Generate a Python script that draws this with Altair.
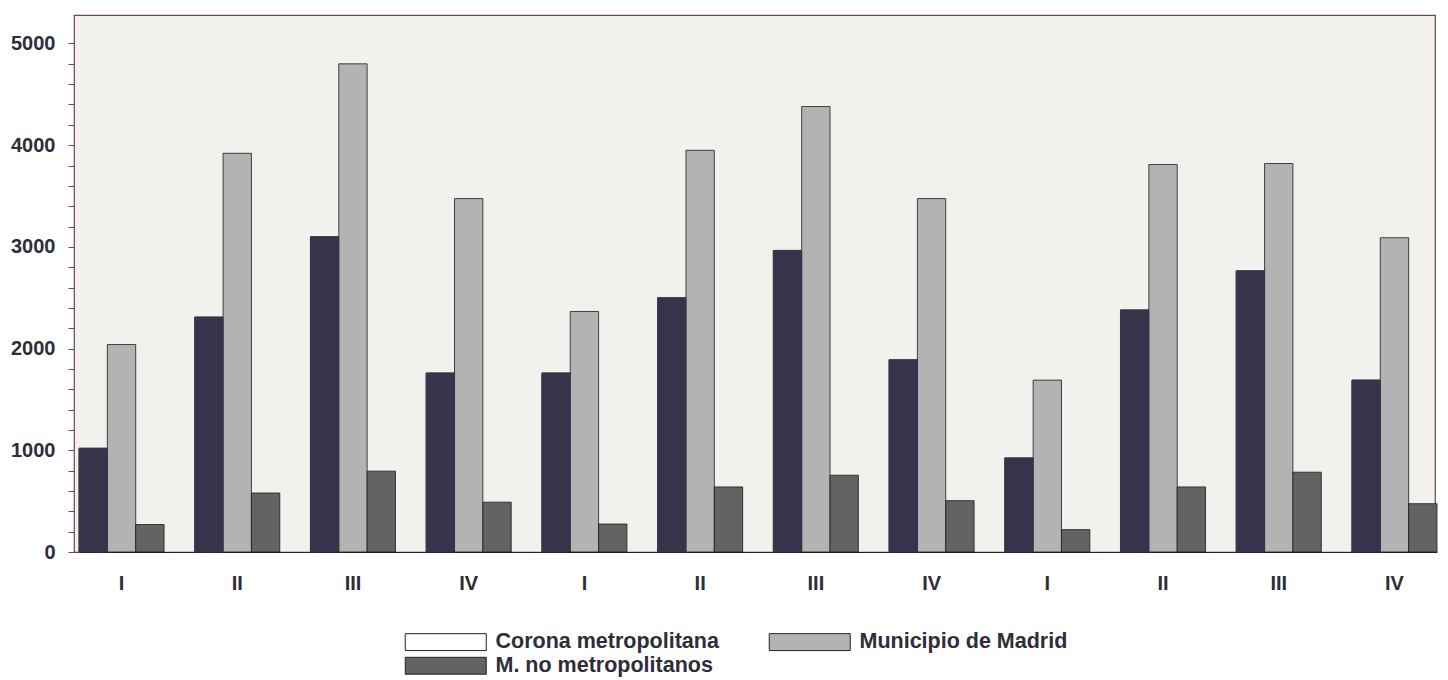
import altair as alt
import pandas as pd

# ---- data ----
periods = ["I", "II", "III", "IV", "I", "II", "III", "IV", "I", "II", "III", "IV"]
series = ["Corona metropolitana", "Municipio de Madrid", "M. no metropolitanos"]
corona = [1020, 2310, 3100, 1760, 1760, 2500, 2965, 1890, 925, 2380, 2765, 1690]
municipio = [2040, 3920, 4800, 3475, 2365, 3950, 4380, 3475, 1690, 3810, 3820, 3090]
no_metro = [270, 580, 795, 490, 275, 640, 755, 505, 220, 640, 785, 475]
y_tick_values = [0, 200, 400, 600, 800, 1000, 1200, 1400, 1600, 1800, 2000,
                 2200, 2400, 2600, 2800, 3000, 3200, 3400, 3600, 3800, 4000,
                 4200, 4400, 4600, 4800, 5000]

rows = []
for i, p in enumerate(periods):
    key = f"{i + 1:02d}-{p}"
    for s, vals in zip(series, [corona, municipio, no_metro]):
        rows.append({"key": key, "series": s, "value": vals[i]})
df = pd.DataFrame(rows)

DARK = "#35344a"
CROSS = "#b3b3b3"
DENSE = "#636363"
FRAME = "#6a4a4f"
TXT = "#2e2d38"
FONT = "Liberation Sans"

x_enc = alt.X(
    "key:N",
    scale=alt.Scale(range=[5, 1363], paddingInner=0.265, paddingOuter=0),
    axis=alt.Axis(
        title=None,
        labelExpr="split(datum.value, '-')[1]",
        labelAngle=0,
        ticks=False,
        tickSize=0,
        domain=True,
        domainColor="#222222",
        domainWidth=1.2,
        labelFontSize=20,
        labelFontWeight="bold",
        labelFont=FONT,
        labelColor=TXT,
        labelPadding=21,
    ),
)
xoff_enc = alt.XOffset(
    "series:N", scale=alt.Scale(domain=series, paddingInner=0, paddingOuter=0)
)
y_enc = alt.Y(
    "value:Q",
    scale=alt.Scale(domain=[0, 5280], nice=False, zero=True),
    axis=alt.Axis(
        title=None,
        values=y_tick_values,
        format="d",
        labelExpr="datum.value % 1000 === 0 ? datum.label : ''",
        grid=False,
        domain=False,
        tickSize=6,
        tickColor=FRAME,
        labelFontSize=20,
        labelFontWeight="bold",
        labelFont=FONT,
        labelColor=TXT,
        labelPadding=13,
    ),
)

# legend follows the printed key (white box for Corona metropolitana)
bars = alt.Chart(df).mark_bar(stroke="#1c1c1c", strokeWidth=0.8).encode(
    x=x_enc,
    xOffset=xoff_enc,
    y=y_enc,
    fill=alt.Fill(
        "series:N",
        scale=alt.Scale(domain=series, range=["#ffffff", CROSS, DENSE]),
        legend=alt.Legend(
            title=None,
            orient="none",
            direction="horizontal",
            legendX=331,
            legendY=616,
            columns=2,
            columnPadding=48,
            rowPadding=1,
            symbolType="M-4.5,-0.94L4.5,-0.94L4.5,0.94L-4.5,0.94Z",
            symbolSize=324,
            symbolStrokeColor="#222222",
            symbolStrokeWidth=1,
            symbolOffset=30,
            labelOffset=39,
            labelFontSize=21.5,
            labelFontWeight="bold",
            labelFont=FONT,
            labelColor=TXT,
            labelLimit=400,
        ),
    ),
)

# Corona metropolitana bars are printed solid dark
dark = alt.Chart(df).transform_filter(
    alt.datum.series == series[0]
).mark_bar(fill=DARK, stroke=DARK, strokeWidth=0.8).encode(
    x=x_enc,
    xOffset=xoff_enc,
    y=y_enc,
)

chart = alt.layer(bars, dark).properties(
    width=1361,
    height=537,
    autosize=alt.AutoSizeParams(type="none"),
    padding={"left": 66, "top": 7, "right": 5, "bottom": 127},
).configure(
    background="#ffffff",
).configure_view(
    stroke=FRAME,
    strokeWidth=1.2,
    fill="#f2f1ed",
)

chart.save("out.html", embed_options={"renderer": "svg", "actions": False})
